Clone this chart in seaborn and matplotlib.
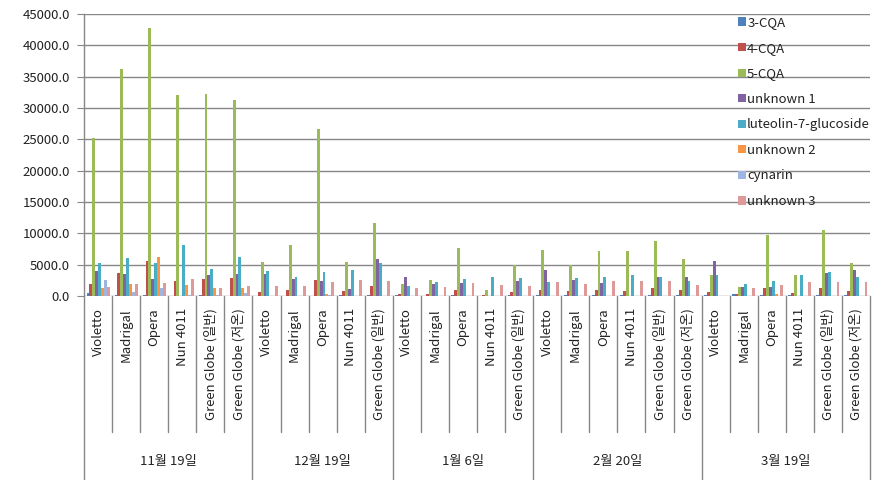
import numpy as np
import pandas as pd
import matplotlib
matplotlib.use("Agg")
import matplotlib.pyplot as plt
import matplotlib.transforms as mtransforms
import seaborn as sns

# ---------------- data ----------------
dates = ["11월 19일", "12월 19일", "1월 6일", "2월 20일", "3월 19일"]
cultivars_by_date = [
    ["Violetto", "Madrigal", "Opera", "Nun 4011", "Green Globe (일반)", "Green Globe (저온)"],
    ["Violetto", "Madrigal", "Opera", "Nun 4011", "Green Globe (일반)"],
    ["Violetto", "Madrigal", "Opera", "Nun 4011", "Green Globe (일반)"],
    ["Violetto", "Madrigal", "Opera", "Nun 4011", "Green Globe (일반)", "Green Globe (저온)"],
    ["Violetto", "Madrigal", "Opera", "Nun 4011", "Green Globe (일반)", "Green Globe (저온)"],
]
series_names = ["3-CQA", "4-CQA", "5-CQA", "unknown 1", "luteolin-7-glucoside",
                "unknown 2", "cynarin", "unknown 3"]

cqa3 = [400, 100, 150, 50, 80, 60,
        50, 60, 50, 150, 80,
        200, 50, 100, 50, 80,
        100, 80, 100, 80, 100, 80,
        80, 300, 100, 80, 100, 80]
cqa4 = [1900, 3600, 5600, 2400, 2700, 2900,
        650, 1000, 2600, 800, 1600,
        300, 300, 1000, 150, 650,
        1000, 800, 1000, 800, 1300, 1000,
        650, 300, 1300, 500, 1300, 800]
cqa5 = [25200, 36300, 42800, 32000, 32300, 31300,
        5500, 8200, 26600, 5400, 11700,
        1900, 2600, 7600, 1000, 5000,
        7400, 5000, 7200, 7200, 8800, 5900,
        3300, 1500, 9700, 3400, 10600, 5300]
unknown1 = [4000, 3500, 2700, 0, 3400, 3500,
            3500, 2700, 2400, 1100, 5900,
            3000, 1900, 2000, 0, 2400,
            4200, 2600, 2100, 0, 3000, 3000,
            5600, 1500, 1500, 0, 3700, 4200]
luteolin = [5200, 6000, 5200, 8100, 4300, 6300,
            4000, 3100, 3800, 4200, 5200,
            1600, 2300, 2700, 3100, 2900,
            2300, 2900, 3000, 3400, 3100, 2400,
            3400, 1900, 2400, 3300, 3900, 3000]
unknown2 = [1200, 1900, 6200, 1800, 1200, 1200,
            0, 0, 300, 0, 0,
            0, 0, 0, 0, 0,
            0, 0, 0, 0, 0, 0,
            0, 0, 300, 0, 0, 0]
cynarin = [2600, 600, 1300, 200, 100, 500,
           0, 0, 200, 0, 0,
           0, 0, 0, 0, 0,
           0, 0, 0, 0, 0, 0,
           0, 0, 0, 0, 0, 0]
unknown3 = [1450, 1900, 2100, 2700, 1200, 1600,
            1600, 1600, 2300, 2500, 2400,
            1200, 1500, 2100, 1800, 1600,
            2200, 1900, 2400, 2400, 2400, 1800,
            0, 1300, 1800, 2300, 2300, 2300]

yticks = [0, 5000, 10000, 15000, 20000, 25000, 30000, 35000, 40000, 45000]

colors = ["#4F81BD", "#C0504D", "#9BBB59", "#8064A2", "#4BACC6",
          "#F79646", "#9DB5E0", "#DE9A98"]

# ---------------- build long table ----------------
cat_ids, cat_labels = [], []
for d, cl in zip(dates, cultivars_by_date):
    for c in cl:
        cat_ids.append(f"{d}|{c}")
        cat_labels.append(c)
all_series = [cqa3, cqa4, cqa5, unknown1, luteolin, unknown2, cynarin, unknown3]
rows = []
for name, vals in zip(series_names, all_series):
    for cid, v in zip(cat_ids, vals):
        rows.append({"cat": cid, "series": name, "value": v})
df = pd.DataFrame(rows)

# ---------------- plot ----------------
sns.set_style("white")
plt.rcParams["font.family"] = ["Noto Sans CJK KR", "DejaVu Sans"]

FS = 9.5
TXT = "#222222"
GRID = "#878787"

fig = plt.figure(figsize=(8.82, 4.80), dpi=100)
ax = fig.add_axes([84 / 882, 1 - 296 / 480, (870 - 84) / 882, (296 - 14) / 480])

sns.barplot(data=df, x="cat", y="value", hue="series", order=cat_ids,
            hue_order=series_names, palette=colors, width=0.82, gap=0,
            linewidth=0, saturation=1, ax=ax, errorbar=None)

ax.set_ylim(0, 45000)
ax.set_xlim(-0.5, len(cat_ids) - 0.5)
ax.set_yticks(yticks)
ax.set_yticklabels([f"{v:.1f}" for v in yticks], fontsize=FS, color=TXT)
ax.yaxis.grid(True, color=GRID, linewidth=1)
ax.set_axisbelow(True)
ax.tick_params(axis="y", direction="out", length=5, color=GRID, pad=5, left=True)
ax.set_xticks([])
ax.set_xlabel("")
ax.set_ylabel("")
for s in ["top", "right", "bottom"]:
    ax.spines[s].set_visible(False)
ax.spines["left"].set_color(GRID)
ax.spines["left"].set_linewidth(1)

trans = mtransforms.blended_transform_factory(ax.transData, ax.transAxes)
h_px = 282.0
# cultivar labels
for i, lab in enumerate(cat_labels):
    ax.text(i, -12 / h_px, lab, rotation=90, ha="center", va="top",
            fontsize=FS, color=TXT, transform=trans)
# separators
start = 0
group_edges = [-0.5]
for d, cl in zip(dates, cultivars_by_date):
    n = len(cl)
    for k in range(1, n):
        x = start + k - 0.5
        ax.plot([x, x], [0, -(432 - 296) / h_px], color=GRID, lw=1,
                transform=trans, clip_on=False)
    ax.text(start + (n - 1) / 2, -(462 - 296) / h_px, d, ha="center", va="center",
            fontsize=FS, color=TXT, transform=trans)
    start += n
    group_edges.append(start - 0.5)
for x in group_edges:
    ax.plot([x, x], [0, -(480 - 296) / h_px], color=GRID, lw=1,
            transform=trans, clip_on=False)

leg = ax.legend(loc="upper left", bbox_to_anchor=((730 - 84) / 786, 1.02),
                frameon=False, fontsize=FS, handlelength=0.6, handleheight=0.6,
                handletextpad=0.1, labelspacing=0.95, borderaxespad=0.2)
for t in leg.get_texts():
    t.set_color(TXT)

fig.savefig("out.png", dpi=100)
